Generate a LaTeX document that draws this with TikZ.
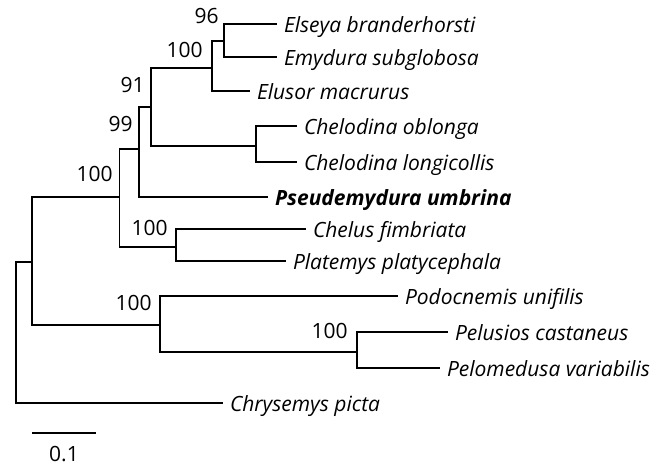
\documentclass[tikz,border=0pt]{standalone}
\usepackage{fontspec}
\setmainfont{Open Sans}

\begin{document}
\begin{tikzpicture}[x=0.5pt, y=-0.5pt,
    font=\fontsize{10.5}{12}\selectfont,
    branch/.style={line width=0.85pt},
    taxon/.style={anchor=base west, inner sep=0pt, xshift=3.3pt, yshift=-4.2pt,
      font=\fontsize{10.5}{12}\selectfont\itshape},
    boot/.style={anchor=base east, inner sep=0pt}]
    \useasboundingbox (0,0) rectangle (665,465);

    % Internal nodes
    \coordinate (root) at (16,332);
    \coordinate (pleuro) at (32,262);
    \coordinate (chelid) at (119.5,197);
    \coordinate (aus) at (139,149);
    \coordinate (shortneck) at (151,107);
    \coordinate (emyd) at (212,68);
    \coordinate (elsem) at (224,41);
    \coordinate (chelod) at (256,146);
    \coordinate (samer) at (176,247);
    \coordinate (pelo) at (160,325);
    \coordinate (pelmed) at (357,352);

    % Tips
    \coordinate (elseya) at (277,24);
    \coordinate (emydura) at (277,57);
    \coordinate (elusor) at (250,91);
    \coordinate (oblonga) at (297,126);
    \coordinate (longi) at (297,162);
    \coordinate (pseud) at (268,197);
    \coordinate (chelus) at (306,229);
    \coordinate (platemys) at (286,261);
    \coordinate (podo) at (398,296);
    \coordinate (pelusios) at (448,332);
    \coordinate (pelomed) at (440,368);
    \coordinate (chrys) at (223,403);

    % Branches
    \draw[branch] (root) |- (pleuro);
    \draw[branch] (root) |- (chrys);
    \draw[branch] (pleuro) |- (chelid);
    \draw[branch] (pleuro) |- (pelo);
    \draw[branch] (chelid) |- (aus);
    \draw[branch] (chelid) |- (samer);
    \draw[branch] (aus) |- (shortneck);
    \draw[branch] (aus) |- (pseud);
    \draw[branch] (shortneck) |- (emyd);
    \draw[branch] (shortneck) |- (chelod);
    \draw[branch] (emyd) |- (elsem);
    \draw[branch] (emyd) |- (elusor);
    \draw[branch] (elsem) |- (elseya);
    \draw[branch] (elsem) |- (emydura);
    \draw[branch] (chelod) |- (oblonga);
    \draw[branch] (chelod) |- (longi);
    \draw[branch] (samer) |- (chelus);
    \draw[branch] (samer) |- (platemys);
    \draw[branch] (pelo) |- (podo);
    \draw[branch] (pelo) |- (pelmed);
    \draw[branch] (pelmed) |- (pelusios);
    \draw[branch] (pelmed) |- (pelomed);

    % Taxon names
    \node[taxon] (elseyaL) at (elseya) {Elseya branderhorsti};
    \node[taxon] (emyduraL) at (emydura) {Emydura subglobosa};
    \node[taxon] (elusorL) at (elusor) {Elusor macrurus};
    \node[taxon] (oblongaL) at (oblonga) {Chelodina oblonga};
    \node[taxon] (longiL) at (longi) {Chelodina longicollis};
    \node[taxon] (pseudL) at (pseud) {\bfseries Pseudemydura umbrina};
    \node[taxon] (chelusL) at (chelus) {Chelus fimbriata};
    \node[taxon] (platemysL) at (platemys) {Platemys platycephala};
    \node[taxon] (podoL) at (podo) {Podocnemis unifilis};
    \node[taxon] (pelusiosL) at (pelusios) {Pelusios castaneus};
    \node[taxon] (pelomedL) at (pelomed) {Pelomedusa variabilis};
    \node[taxon] (chrysL) at (chrys) {Chrysemys picta};

    % Bootstrap values
    \node[boot] (b96) at (219,24) {96};
    \node[boot] (bemyd) at (203,58) {100};
    \node[boot] (b91) at (145,93) {91};
    \node[boot] (b99) at (133,132) {99};
    \node[boot] (bchelid) at (113,182) {100};
    \node[boot] (bsamer) at (168,235) {100};
    \node[boot] (bpelo) at (152,311) {100};
    \node[boot] (bpelmed) at (348,338) {100};

    % Scale bar
    \draw[branch] (32,433) -- (96,433);
    \node[anchor=base, inner sep=0pt] (scale) at (64,461) {0.1};
\end{tikzpicture}
\end{document}
